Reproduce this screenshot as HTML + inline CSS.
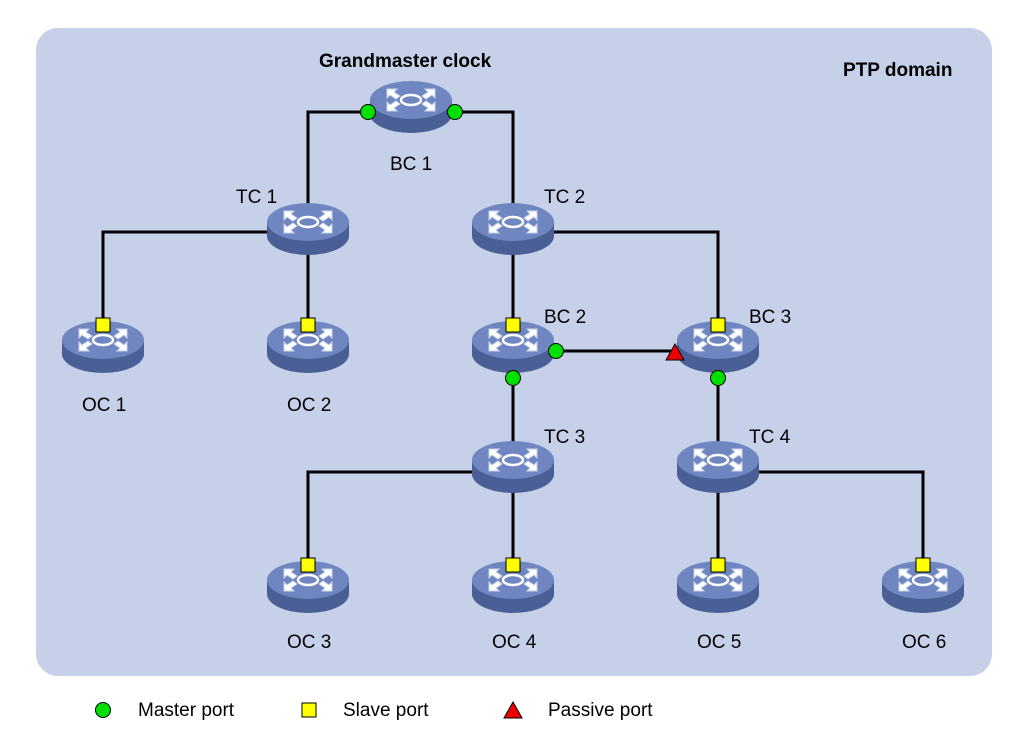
<!DOCTYPE html>
<html><head><meta charset="utf-8"><style>
body{margin:0;background:#fff}
svg{display:block;font-family:"Liberation Sans",Arial,sans-serif}
</style></head><body>
<svg width="1014" height="737" viewBox="0 0 1014 737">
<defs>
<g id="r">
<path d="M-41,-4 L-41,10 A41,19 0 0 0 41,10 L41,-4 Z" fill="#4a5f95"/>
<ellipse cx="0" cy="-4" rx="41" ry="19" fill="#6f86c0"/>
<g fill="#fff" stroke="#c9d3ee" stroke-width="1">
<path d="M-24,-15 l10,0 l-3,3 l6,4 l-4,3 l-6,-4 l-3,3 z"/>
<path d="M24,-15 l-10,0 l3,3 l-6,4 l4,3 l6,-4 l3,3 z"/>
<path d="M-24,7 l10,0 l-3,-3 l6,-4 l-4,-3 l-6,4 l-3,-3 z"/>
<path d="M24,7 l-10,0 l3,-3 l-6,-4 l4,-3 l6,4 l3,-3 z"/>
</g>
<ellipse cx="0" cy="-4" rx="10" ry="5" fill="none" stroke="#fff" stroke-width="2.5"/>
</g>
</defs>
<rect x="36" y="28" width="956" height="648" rx="22" fill="#c6d1e9"/>
<g stroke="#000" stroke-width="3" fill="none">
<polyline points="368,112 308,112 308,226"/>
<polyline points="455,112 513,112 513,226"/>
<polyline points="308,232 103,232 103,330"/>
<line x1="308" y1="232" x2="308" y2="330"/>
<polyline points="513,232 718,232 718,330"/>
<line x1="513" y1="232" x2="513" y2="330"/>
<line x1="556" y1="351" x2="675" y2="351"/>
<line x1="513" y1="378" x2="513" y2="470"/>
<line x1="718" y1="378" x2="718" y2="470"/>
<polyline points="513,472 308,472 308,570"/>
<line x1="513" y1="472" x2="513" y2="570"/>
<polyline points="718,472 923,472 923,570"/>
<line x1="718" y1="472" x2="718" y2="570"/>
</g>
<use href="#r" x="411" y="104"/>
<use href="#r" x="308" y="226"/>
<use href="#r" x="513" y="226"/>
<use href="#r" x="103" y="344"/>
<use href="#r" x="308" y="344"/>
<use href="#r" x="513" y="344"/>
<use href="#r" x="718" y="344"/>
<use href="#r" x="513" y="464"/>
<use href="#r" x="718" y="464"/>
<use href="#r" x="308" y="584"/>
<use href="#r" x="513" y="584"/>
<use href="#r" x="718" y="584"/>
<use href="#r" x="923" y="584"/>
<g fill="#00e000" stroke="#000" stroke-width="1">
<circle cx="368" cy="112" r="7.5"/><circle cx="455" cy="112" r="7.5"/>
<circle cx="556" cy="351" r="7.5"/><circle cx="513" cy="378" r="7.5"/>
<circle cx="718" cy="378" r="7.5"/>
<circle cx="103" cy="710" r="7.5"/>
</g>
<g fill="#ffff00" stroke="#000" stroke-width="1">
<rect x="96" y="318" width="14" height="14"/><rect x="301" y="318" width="14" height="14"/>
<rect x="506" y="318" width="14" height="14"/><rect x="711" y="318" width="14" height="14"/>
<rect x="301" y="558" width="14" height="14"/><rect x="506" y="558" width="14" height="14"/>
<rect x="711" y="558" width="14" height="14"/><rect x="916" y="558" width="14" height="14"/>
<rect x="302" y="703" width="14" height="14"/>
</g>
<g fill="#ee0000" stroke="#000" stroke-width="1">
<polygon points="675,344 684,360 666,360"/>
<polygon points="513,702 522,718 504,718"/>
</g>
<g font-size="19" fill="#000">
<text x="319" y="67" font-weight="bold">Grandmaster clock</text>
<text x="843" y="76" font-weight="bold">PTP domain</text>
<text x="390" y="170">BC 1</text>
<text x="236" y="203">TC 1</text>
<text x="544" y="203">TC 2</text>
<text x="544" y="323">BC 2</text>
<text x="749" y="323">BC 3</text>
<text x="544" y="443">TC 3</text>
<text x="749" y="443">TC 4</text>
<text x="82" y="411">OC 1</text>
<text x="287" y="411">OC 2</text>
<text x="287" y="648">OC 3</text>
<text x="492" y="648">OC 4</text>
<text x="697" y="648">OC 5</text>
<text x="902" y="648">OC 6</text>
<text x="138" y="716">Master port</text>
<text x="343" y="716">Slave port</text>
<text x="548" y="716">Passive port</text>
</g>
</svg>
</body></html>
